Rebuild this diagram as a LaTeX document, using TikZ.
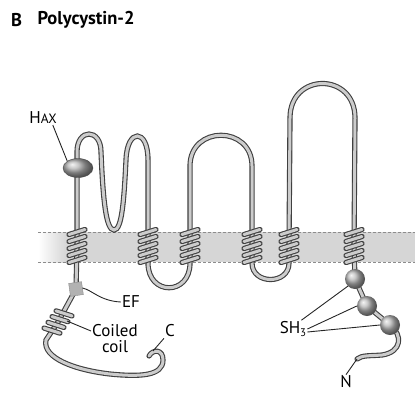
\documentclass[tikz,border=0pt]{standalone}
\usepackage{fontspec}
\setmainfont{PT Sans}
\usetikzlibrary{shapes.geometric, positioning}

\tikzset{
	strand/.style={draw=black!75, double=black!20, double distance=3pt, line width=1.1pt, line cap=round},
	leader/.style={draw=black!85, line width=0.9pt},
	lbl/.style={font=\fontsize{17}{20}\selectfont, inner sep=1pt},
	heading/.style={font=\bfseries\fontsize{18.5}{20}\selectfont, inner sep=0pt, anchor=west},
	sh3ball/.style={circle, ball color=black!28, minimum size=20pt, inner sep=0pt},
	haxblob/.style={ellipse, ball color=black!30, draw=black!70, minimum width=30pt, minimum height=19pt, inner sep=0pt},
	efbox/.style={rectangle, fill=black!30, draw=black!45, minimum size=13pt, inner sep=0pt, rotate=8},
	pics/tmcoil/.style={code={
		\foreach \k in {1,...,#1}
			\draw[strand] (-8,{7*\k-3.5*(#1+1)+2.5}) -- (8,{7*\k-3.5*(#1+1)-2.5});
	}},
	pics/tmcoil/.default=5,
}

\begin{document}
\begin{tikzpicture}[x=1pt, y=-1pt]
	\useasboundingbox (0,0) rectangle (415,394);

	% lipid bilayer
	\shade[left color=white, right color=black!16] (38,232) rectangle (66,262);
	\fill[black!16] (66,232) rectangle (415,262);
	\draw[black!45, densely dashed, line width=0.8pt] (38,232) -- (415,232) (38,262) -- (415,262);

	% segment centres
	\coordinate (s1) at (77,246);
	\coordinate (s2) at (148,246);
	\coordinate (s3) at (190,246);
	\coordinate (s4) at (252,246);
	\coordinate (s5) at (289,246);
	\coordinate (s6) at (354,246);
	\coordinate (ef) at (76,289);
	\coordinate (cc) at (58,322);
	\coordinate (p1) at (355,279);
	\coordinate (p2) at (367,306);
	\coordinate (p3) at (390,325);
	\coordinate (cend) at (149,356);
	\coordinate (nend) at (357,359);

	% backbone, C terminus to N terminus
	\draw[strand] (cend) .. controls (153,349) and (163,349) .. (163,360)
		.. controls (163,376) and (140,377) .. (110,374)
		.. controls (75,370) and (42,358) .. (46,340)
		-- (cc) -- (ef) -- (s1) -- (77,152)
		.. controls (77,128) and (101,128) .. (101,152)
		.. controls (103,200) and (106,230) .. (114,230)
		.. controls (122,230) and (124,200) .. (126,160)
		.. controls (127,128) and (148,128) .. (148,160)
		-- (s2) -- (148,263)
		.. controls (148,296) and (190,296) .. (190,263)
		-- (s3) -- (190,166)
		.. controls (190,125) and (252,125) .. (252,166)
		-- (s4) -- (252,263)
		.. controls (252,285) and (289,285) .. (289,263)
		-- (s5) -- (290,118)
		.. controls (290,72) and (355,72) .. (355,118)
		-- (s6) -- (p1) -- (p2) -- (p3)
		.. controls (403,335) and (402,352) .. (382,355)
		.. controls (370,356) and (362,355) .. (nend);

	% helices
	\foreach \s in {s1,s2,s3,s4,s5,s6}
		\pic at (\s) {tmcoil};
	\pic[rotate=-35] at (cc) {tmcoil=4};

	% domains
	\node[haxblob] (hax) at (78,168) {};
	\node[efbox] (efb) at (ef) {};
	\node[sh3ball] (b1) at (p1) {};
	\node[sh3ball] (b2) at (p2) {};
	\node[sh3ball] (b3) at (p3) {};

	% labels
	\node[heading] (panel) at (11,20) {B};
	\node[heading, right=15pt of panel] (title) {Polycystin-2};
	\node[lbl] (haxlbl) at (43,118) {H{\fontsize{13.5}{14}\selectfont AX}};
	\node[lbl] (eflbl) at (131,302) {EF};
	\node[lbl] (coiledlbl) at (115,331) {Coiled};
	\node[lbl, below=1pt of coiledlbl] (coillbl) {coil};
	\node[lbl] (clbl) at (170,331) {C};
	\node[lbl] (shlbl) at (293,329) {SH\raisebox{-0.35ex}{\fontsize{11}{11}\selectfont 3}};
	\node[lbl] (nlbl) at (346,382) {N};

	\draw[leader] ([xshift=-5pt]haxlbl.south east) -- (hax.north west);
	\draw[leader] (efb.east) .. controls (92,290) and (100,301) .. (eflbl.west);
	\draw[leader] (coiledlbl.west) -- (67,321);
	\draw[leader] (clbl.south west) -- (153,351);
	\draw[leader] ([xshift=-6pt]shlbl.north east) -- (b1.south west);
	\draw[leader] (shlbl.east) -- (b2.west);
	\draw[leader] ([yshift=-3pt]shlbl.east) -- (b3.west);
	\draw[leader] (nlbl.north) -- (nend);
\end{tikzpicture}
\end{document}
